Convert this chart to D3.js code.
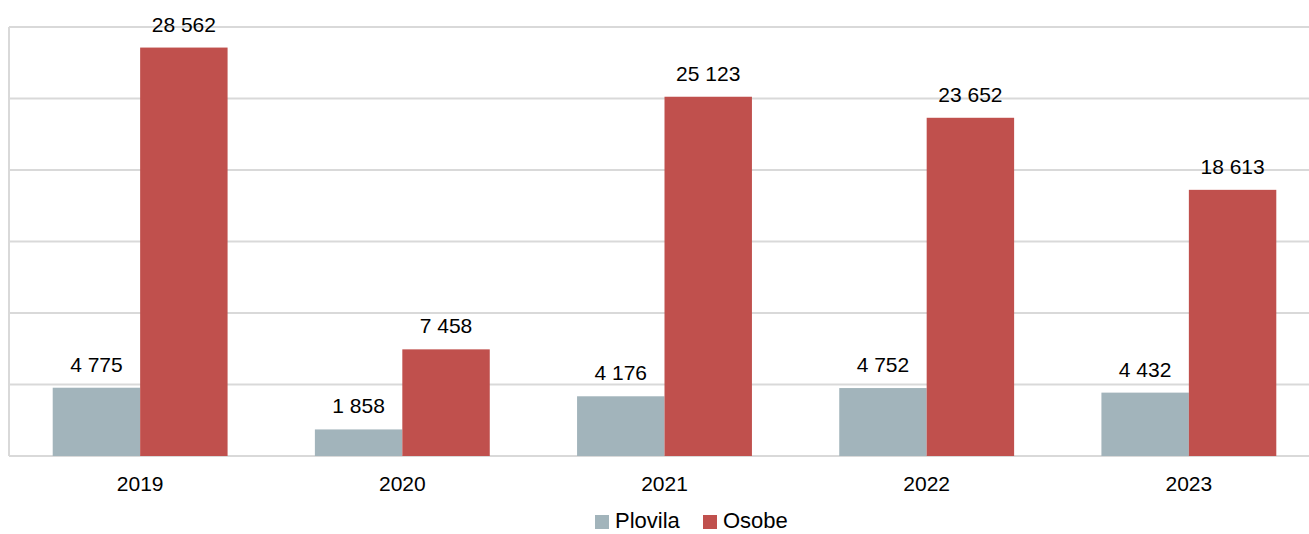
<!DOCTYPE html>
<html>
<head>
<meta charset="utf-8">
<script src="https://cdn.jsdelivr.net/npm/d3@7"></script>
<style>
  body { margin: 0; background: #fff; }
  svg { display: block; font-family: "Liberation Sans", Arial, sans-serif; }
</style>
</head>
<body>
<svg id="chart" width="1309" height="534"></svg>
<script>
// data
const years = ["2019", "2020", "2021", "2022", "2023"];
const plovila = [4775, 1858, 4176, 4752, 4432];
const osobe = [28562, 7458, 25123, 23652, 18613];
const seriesNames = ["Plovila", "Osobe"];
const colors = ["#a2b4bb", "#c0504d"];
const gridTicks = [0, 5000, 10000, 15000, 20000, 25000, 30000];

const svg = d3.select("#chart");
const plotLeft = 9, plotRight = 1320, plotTop = 27, plotBottom = 456;

const x = d3.scaleBand().domain(years).range([plotLeft, plotRight]).paddingInner(0.333).paddingOuter(0.1667);
const xs = d3.scaleBand().domain(seriesNames).range([0, x.bandwidth()]);
const y = d3.scaleLinear().domain([0, 30000]).range([plotBottom, plotTop]);

const fmt = v => d3.format(",")(v).replace(/,/g, " ");

// gridlines
svg.append("g").selectAll("line").data(gridTicks).enter().append("line")
  .attr("x1", plotLeft).attr("x2", 1309)
  .attr("y1", d => y(d)).attr("y2", d => y(d))
  .attr("stroke", "#d9d9d9").attr("stroke-width", 2);
svg.append("line")
  .attr("x1", plotLeft).attr("x2", plotLeft).attr("y1", plotTop).attr("y2", plotBottom)
  .attr("stroke", "#d9d9d9").attr("stroke-width", 2);

const rows = years.map((yr, i) => ({ year: yr, vals: [plovila[i], osobe[i]] }));

const groups = svg.append("g").selectAll("g").data(rows).enter().append("g")
  .attr("transform", d => `translate(${x(d.year)},0)`);

groups.selectAll("rect")
  .data(d => d.vals.map((v, j) => ({ name: seriesNames[j], v: v, j: j })))
  .enter().append("rect")
  .attr("x", d => xs(d.name))
  .attr("width", xs.bandwidth())
  .attr("y", d => y(d.v))
  .attr("height", d => plotBottom - y(d.v))
  .attr("fill", d => colors[d.j]);

// value labels sit over the gridlines, like the original
groups.selectAll("text.val")
  .data(d => d.vals.map((v, j) => ({ name: seriesNames[j], v: v })))
  .enter().append("text")
  .attr("class", "val")
  .attr("x", d => xs(d.name) + xs.bandwidth() / 2)
  .attr("y", d => y(d.v) - 16)
  .attr("text-anchor", "middle")
  .attr("font-size", 21)
  .attr("fill", "#000")
  .text(d => fmt(d.v));

// category labels
svg.append("g").selectAll("text").data(years).enter().append("text")
  .attr("x", d => x(d) + x.bandwidth() / 2)
  .attr("y", 491)
  .attr("text-anchor", "middle")
  .attr("font-size", 21)
  .text(d => d);

// legend
const legend = svg.append("g").attr("transform", "translate(595,0)");
const legendX = [0, 108];
seriesNames.forEach((name, i) => {
  legend.append("rect")
    .attr("x", legendX[i]).attr("y", 515).attr("width", 14).attr("height", 14)
    .attr("fill", colors[i]);
  legend.append("text")
    .attr("x", legendX[i] + 20).attr("y", 528)
    .attr("font-size", 22)
    .text(name);
});
</script>
</body>
</html>
